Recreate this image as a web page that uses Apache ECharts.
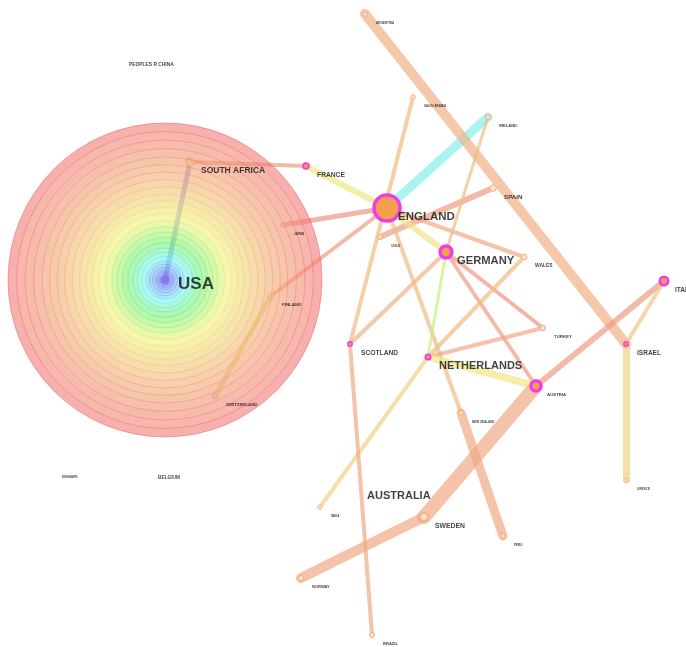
<!DOCTYPE html>
<html lang="en">
<head>
    <meta charset="UTF-8">
    <title>Country co-operation network</title>
    <script src="https://cdn.jsdelivr.net/npm/echarts@6/dist/echarts.min.js"></script>
    <style>html,body{margin:0;padding:0;background:#fff;}</style>
</head>
<body>
<div id="myChart" style="width: 686px;height: 647px"></div>
<script>
    // nodes: layout position, frequency, betweenness centrality
    var countries = ['USA', 'ENGLAND', 'GERMANY', 'NETHERLANDS', 'AUSTRALIA', 'SOUTH AFRICA', 'FRANCE',
        'SCOTLAND', 'SWEDEN', 'ISRAEL', 'ITALY', 'SPAIN', 'AUSTRIA', 'IRELAND', 'WALES', 'TURKEY',
        'NORWAY', 'BRAZIL', 'FINLAND', 'SWITZERLAND', 'BELGIUM', 'PEOPLES R CHINA', 'ARGENTINA',
        'SAUDI ARABIA', 'CHILE', 'NEW ZEALAND', 'PERU', 'INDIA', 'GREECE', 'DENMARK', 'JAPAN'];
    var nodeX = [165, 387, 446, 428, 356, 190, 306, 350, 424, 626, 664, 493, 536, 488, 524, 543,
        301, 372, 271, 215, 147, 118, 365, 413, 380, 461, 503, 320, 626, 51, 283];
    var nodeY = [280, 208, 252, 357, 487, 162, 166, 344, 517, 344, 281, 188, 386, 117, 257, 328,
        578, 635, 296, 396, 469, 56, 14, 97, 237, 413, 536, 507, 480, 468, 225];
    var freq = [696, 268, 250, 239, 239, 119, 58, 58, 61, 53, 53, 45, 11, 8, 20, 11,
        8, 8, 12, 11, 17, 19, 1, 1, 1, 1, 1, 1, 1, 1, 1];
    var centrality = [0, 0.5, 0.18, 0.03, 0, 0, 0.04, 0.01, 0, 0.01, 0.1, 0, 0.14, 0, 0, 0,
        0, 0, 0, 0, 0, 0, 0, 0, 0, 0, 0, 0, 0, 0, 0];

    // USA citation tree rings, counts per year (oldest first)
    var usaYearCounts = [1, 1, 1, 2, 2, 2, 3, 3, 3, 4, 4, 4, 5, 5, 5, 5, 6, 6, 6, 6, 6, 7, 7, 7, 7, 7, 8, 8, 8, 8];

    // collaboration links
    var linkFrom = ['USA', 'SOUTH AFRICA', 'FRANCE', 'ENGLAND', 'ARGENTINA', 'ENGLAND', 'SPAIN', 'ENGLAND',
        'SAUDI ARABIA', 'ENGLAND', 'ENGLAND', 'ENGLAND', 'FINLAND', 'IRELAND', 'GERMANY', 'GERMANY',
        'GERMANY', 'GERMANY', 'WALES', 'TURKEY', 'NETHERLANDS', 'NETHERLANDS', 'SCOTLAND', 'NEW ZEALAND',
        'AUSTRIA', 'AUSTRIA', 'SWEDEN', 'ITALY', 'ISRAEL'];
    var linkTo = ['SOUTH AFRICA', 'FRANCE', 'ENGLAND', 'IRELAND', 'ISRAEL', 'JAPAN', 'CHILE', 'WALES',
        'SCOTLAND', 'NEW ZEALAND', 'GERMANY', 'FINLAND', 'SWITZERLAND', 'GERMANY', 'NETHERLANDS', 'SCOTLAND',
        'TURKEY', 'AUSTRIA', 'NETHERLANDS', 'NETHERLANDS', 'AUSTRIA', 'INDIA', 'BRAZIL', 'PERU',
        'SWEDEN', 'ITALY', 'NORWAY', 'ISRAEL', 'GREECE'];
    var linkWeight = [6, 4, 8, 14, 16, 6, 8, 4, 4, 4, 8, 4, 6, 2, 2, 4, 4, 4, 4, 4, 10, 4, 4, 14, 24, 8, 16, 4, 10];
    var linkYear = [2001, 2017, 2009, 2003, 2014, 2018, 2017, 2015, 2013, 2013, 2009, 2017, 2011, 2013, 2007, 2014,
        2018, 2017, 2013, 2015, 2009, 2011, 2015, 2015, 2015, 2017, 2015, 2012, 2011];

    // colour scale: old (blue) -> new (red)
    var hueStops = [[0, 255], [0.11, 200], [0.25, 120], [0.41, 60], [0.7, 25], [1, 2]];
    function hueAt(f) {
        f = Math.max(0, Math.min(1, f));
        for (var i = 1; i < hueStops.length; i++) {
            if (f <= hueStops[i][0]) {
                var a = hueStops[i - 1], b = hueStops[i];
                return a[1] + (b[1] - a[1]) * (f - a[0]) / (b[0] - a[0]);
            }
        }
        return hueStops[hueStops.length - 1][1];
    }

    // ring radii from yearly counts
    var ringScale = 157 / usaYearCounts.reduce(function (s, v) { return s + v; }, 0);
    var rings = [];
    var acc = 0;
    usaYearCounts.forEach(function (c) {
        acc += c;
        rings.push(acc * ringScale);
    });
    var ringMax = rings[rings.length - 1];

    function renderRings(params, api) {
        var c = api.coord([api.value(0), api.value(1)]);
        var children = [];
        for (var i = 0; i < rings.length; i++) {
            var r = api.size([rings[i], 0])[0];
            var r0 = i === 0 ? 0 : api.size([rings[i - 1], 0])[0];
            var h = hueAt(rings[i] / ringMax);
            children.push({
                type: 'ring',
                shape: {cx: c[0], cy: c[1], r: r, r0: r0},
                style: {fill: 'hsla(' + h + ',82%,71%,0.6)'}
            });
            children.push({
                type: 'circle',
                shape: {cx: c[0], cy: c[1], r: r},
                style: {fill: 'none', stroke: 'hsla(' + h + ',75%,58%,0.45)', lineWidth: 1}
            });
        }
        return {type: 'group', children: children};
    }

    var linked = {};
    linkFrom.concat(linkTo).forEach(function (n) { linked[n] = true; });

    var nodes = countries.map(function (name, i) {
        var c = centrality[i];
        var size = c > 0 ? 4 + 44 * c : 4 + 0.4 * Math.sqrt(freq[i]);
        if (!linked[name]) size = 0;
        var style;
        if (name === 'USA') {
            size = 8;
            style = {color: 'rgba(200,170,250,0.6)', borderColor: '#9a7ff0', borderWidth: 1};
        } else if (c > 0) {
            style = {color: '#f4a04c', borderColor: '#ee3ce6', borderWidth: Math.min(3.5, size * 0.32)};
        } else {
            style = {color: '#fde4ce', borderColor: '#f1b084', borderWidth: 1};
        }
        return {name: name, value: [nodeX[i], nodeY[i]], symbolSize: size, itemStyle: style};
    });

    var links = linkFrom.map(function (s, i) {
        var h = hueAt((linkYear[i] - 2000) / 20);
        return {
            source: s, target: linkTo[i],
            lineStyle: {width: 2 + linkWeight[i] / 2, color: 'hsl(' + h + ',78%,73%)', opacity: 0.7, cap: 'round', curveness: 0}
        };
    });

    var labels = countries.map(function (name, i) {
        var item = {name: name, value: [nodeX[i], nodeY[i]],
            label: {fontSize: 2.5 + 0.55 * Math.sqrt(freq[i])}};
        if (name === 'USA') item.label.offset = [8, 4];
        return item;
    });

    var myChart = echarts.init(document.getElementById('myChart'));
    myChart.setOption({
        animation: false,
        backgroundColor: '#ffffff',
        grid: {left: 0, right: 0, top: 0, bottom: 0},
        xAxis: {type: 'value', min: 0, max: 686, show: false},
        yAxis: {type: 'value', min: 0, max: 647, inverse: true, show: false},
        series: [{
            type: 'graph',
            coordinateSystem: 'cartesian2d',
            z: 1,
            silent: true,
            symbol: 'circle',
            label: {show: false},
            emphasis: {disabled: true},
            data: nodes,
            links: links
        }, {
            type: 'custom',
            z: 2,
            silent: true,
            clip: false,
            renderItem: renderRings,
            data: [[nodeX[0], nodeY[0]]]
        }, {
            type: 'scatter',
            z: 3,
            silent: true,
            symbolSize: 0.1,
            itemStyle: {color: 'transparent'},
            label: {
                show: true,
                position: 'right',
                distance: 5,
                offset: [6, 9],
                formatter: '{b}',
                color: '#111111',
                fontWeight: 'bold',
                fontFamily: 'Arial, "Liberation Sans", sans-serif'
            },
            data: labels
        }]
    });
</script>
</body>
</html>
